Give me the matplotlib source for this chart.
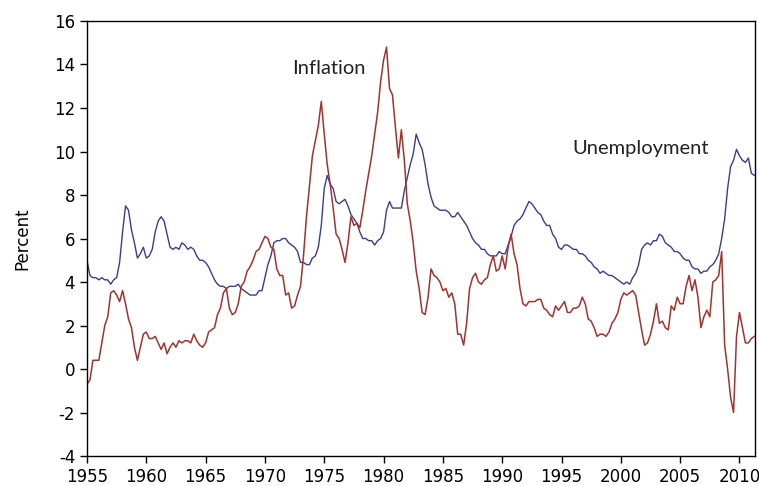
import numpy as np
import matplotlib.pyplot as plt

# quarterly readings, starting 1955 Q1
inflation = [
    -0.7, -0.5, 0.4, 0.4,    # 1955
    0.4, 1.2, 2.0, 2.4,      # 1956
    3.5, 3.6, 3.4, 3.1,      # 1957
    3.6, 3.0, 2.3, 1.9,      # 1958
    1.0, 0.4, 1.0, 1.6,      # 1959
    1.7, 1.4, 1.4, 1.5,      # 1960
    1.2, 0.9, 1.2, 0.7,      # 1961
    1.0, 1.2, 1.0, 1.3,      # 1962
    1.2, 1.3, 1.3, 1.2,      # 1963
    1.6, 1.3, 1.1, 1.0,      # 1964
    1.2, 1.7, 1.8, 1.9,      # 1965
    2.5, 2.8, 3.5, 3.7,      # 1966
    2.8, 2.5, 2.6, 3.0,      # 1967
    3.8, 4.0, 4.5, 4.7,      # 1968
    5.0, 5.4, 5.5, 5.8,      # 1969
    6.1, 6.0, 5.6, 5.5,      # 1970
    4.6, 4.3, 4.3, 3.4,      # 1971
    3.5, 2.8, 2.9, 3.4,      # 1972
    3.8, 5.2, 7.0, 8.4,      # 1973
    9.8, 10.5, 11.2, 12.3,   # 1974
    10.8, 9.4, 8.5, 7.4,     # 1975
    6.2, 6.0, 5.5, 4.9,      # 1976
    5.8, 7.0, 6.6, 6.7,      # 1977
    6.5, 7.3, 8.2, 9.0,      # 1978
    9.8, 10.8, 11.8, 13.2,   # 1979
    14.2, 14.8, 12.9, 12.6,  # 1980
    11.1, 9.7, 11.0, 9.6,    # 1981
    7.6, 6.8, 5.8, 4.5,      # 1982
    3.7, 2.6, 2.5, 3.3,      # 1983
    4.6, 4.3, 4.2, 4.0,      # 1984
    3.6, 3.7, 3.3, 3.5,      # 1985
    3.0, 1.6, 1.6, 1.1,      # 1986
    2.1, 3.7, 4.2, 4.4,      # 1987
    4.0, 3.9, 4.1, 4.2,      # 1988
    4.8, 5.2, 4.5, 4.6,      # 1989
    5.2, 4.6, 5.6, 6.2,      # 1990
    5.3, 4.8, 3.7, 3.0,      # 1991
    2.9, 3.1, 3.1, 3.1,      # 1992
    3.2, 3.2, 2.8, 2.7,      # 1993
    2.5, 2.4, 2.9, 2.7,      # 1994
    2.9, 3.1, 2.6, 2.6,      # 1995
    2.8, 2.8, 2.9, 3.3,      # 1996
    3.0, 2.3, 2.2, 1.9,      # 1997
    1.5, 1.6, 1.6, 1.5,      # 1998
    1.7, 2.1, 2.3, 2.6,      # 1999
    3.2, 3.5, 3.4, 3.5,      # 2000
    3.6, 3.4, 2.6, 1.8,      # 2001
    1.1, 1.2, 1.6, 2.2,      # 2002
    3.0, 2.1, 2.2, 1.9,      # 2003
    1.8, 2.9, 2.7, 3.3,      # 2004
    3.0, 3.0, 3.8, 4.3,      # 2005
    3.6, 4.1, 3.3, 1.9,      # 2006
    2.4, 2.7, 2.4, 4.0,      # 2007
    4.1, 4.3, 5.4, 1.1,      # 2008
    0.0, -1.3, -2.0, 1.5,    # 2009
    2.6, 1.9, 1.2, 1.2,      # 2010
    1.4, 1.5,                # 2011
]

unemployment = [
    5.0, 4.3, 4.2, 4.2,      # 1955
    4.1, 4.2, 4.1, 4.1,      # 1956
    3.9, 4.1, 4.2, 4.9,      # 1957
    6.3, 7.5, 7.3, 6.4,      # 1958
    5.8, 5.1, 5.3, 5.6,      # 1959
    5.1, 5.2, 5.5, 6.3,      # 1960
    6.8, 7.0, 6.8, 6.2,      # 1961
    5.6, 5.5, 5.6, 5.5,      # 1962
    5.8, 5.7, 5.5, 5.6,      # 1963
    5.5, 5.2, 5.0, 5.0,      # 1964
    4.9, 4.7, 4.4, 4.1,      # 1965
    3.9, 3.8, 3.8, 3.7,      # 1966
    3.8, 3.8, 3.8, 3.9,      # 1967
    3.7, 3.6, 3.5, 3.4,      # 1968
    3.4, 3.4, 3.6, 3.6,      # 1969
    4.2, 4.8, 5.2, 5.8,      # 1970
    5.9, 5.9, 6.0, 6.0,      # 1971
    5.8, 5.7, 5.6, 5.4,      # 1972
    4.9, 4.9, 4.8, 4.8,      # 1973
    5.1, 5.2, 5.6, 6.6,      # 1974
    8.3, 8.9, 8.5, 8.3,      # 1975
    7.7, 7.6, 7.7, 7.8,      # 1976
    7.5, 7.1, 6.9, 6.7,      # 1977
    6.3, 6.0, 6.0, 5.9,      # 1978
    5.9, 5.7, 5.9, 6.0,      # 1979
    6.3, 7.3, 7.7, 7.4,      # 1980
    7.4, 7.4, 7.4, 8.2,      # 1981
    8.8, 9.4, 9.9, 10.8,     # 1982
    10.4, 10.1, 9.4, 8.5,    # 1983
    7.9, 7.5, 7.4, 7.3,      # 1984
    7.3, 7.3, 7.2, 7.0,      # 1985
    7.0, 7.2, 7.0, 6.8,      # 1986
    6.6, 6.3, 6.0, 5.8,      # 1987
    5.7, 5.5, 5.5, 5.3,      # 1988
    5.2, 5.2, 5.2, 5.4,      # 1989
    5.3, 5.3, 5.7, 6.1,      # 1990
    6.6, 6.8, 6.9, 7.1,      # 1991
    7.4, 7.7, 7.6, 7.4,      # 1992
    7.2, 7.1, 6.8, 6.6,      # 1993
    6.6, 6.2, 6.0, 5.6,      # 1994
    5.5, 5.7, 5.7, 5.6,      # 1995
    5.5, 5.5, 5.3, 5.3,      # 1996
    5.2, 5.0, 4.9, 4.7,      # 1997
    4.6, 4.4, 4.5, 4.4,      # 1998
    4.3, 4.3, 4.2, 4.1,      # 1999
    4.0, 3.9, 4.0, 3.9,      # 2000
    4.2, 4.4, 4.8, 5.5,      # 2001
    5.7, 5.8, 5.7, 5.9,      # 2002
    5.9, 6.2, 6.1, 5.8,      # 2003
    5.7, 5.6, 5.4, 5.4,      # 2004
    5.3, 5.1, 5.0, 5.0,      # 2005
    4.7, 4.6, 4.6, 4.4,      # 2006
    4.5, 4.5, 4.7, 4.8,      # 2007
    5.0, 5.3, 6.0, 6.9,      # 2008
    8.3, 9.3, 9.6, 10.1,     # 2009
    9.8, 9.6, 9.5, 9.7,      # 2010
    9.0, 8.9,                # 2011
]

years = 1955 + np.arange(len(inflation)) / 4.0

plt.rcParams['axes.unicode_minus'] = False

fig = plt.figure(figsize=(7.59, 4.86), dpi=100)
ax = fig.add_axes([0.1146, 0.0617, 0.88, 0.8951])

ax.plot(years, unemployment, color='#3b3b95', lw=1.0)
ax.plot(years, inflation, color='#a3322c', lw=1.1)

ax.set_xlim(1955, 2011.3)
ax.set_ylim(-4, 16)
ax.set_xticks(np.arange(1955, 2011, 5))
ax.set_yticks(np.arange(-4, 17, 2))
ax.tick_params(direction='out', length=5, width=1, labelsize=12, top=False, right=False)
for sp in ax.spines.values():
    sp.set_linewidth(1.0)

ax.set_ylabel('Percent', fontsize=12)
ax.yaxis.set_label_coords(-0.084, 0.5)

ax.text(1972.3, 13.8, 'Inflation', fontsize=14.5, family='Lato', va='center', color='#222222')
ax.text(1995.9, 10.15, 'Unemployment', fontsize=14.5, family='Lato', va='center', color='#222222')

fig.savefig('out.png', dpi=100)
